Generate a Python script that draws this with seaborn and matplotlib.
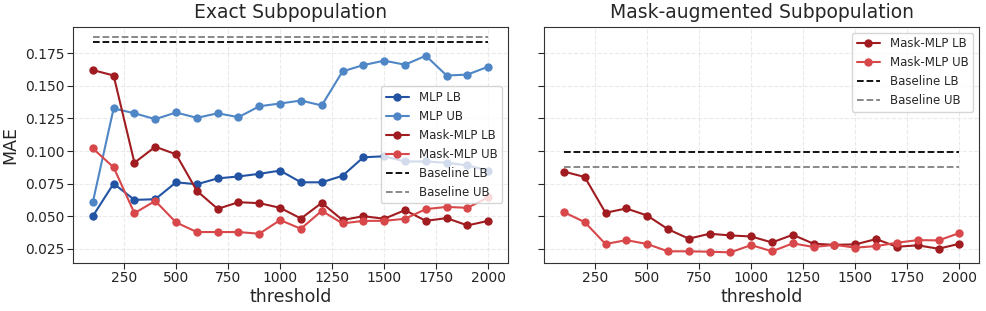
import numpy as np
import pandas as pd
import matplotlib
matplotlib.use("Agg")
import matplotlib.pyplot as plt
import seaborn as sns

thresholds = list(range(100, 2001, 100))

# Exact subpopulation
mlp_lb = [0.050, 0.075, 0.0625, 0.063, 0.076, 0.0745, 0.079, 0.0805, 0.0825, 0.085,
          0.076, 0.076, 0.081, 0.0952, 0.096, 0.092, 0.092, 0.091, 0.089, 0.085]
mlp_ub = [0.0607, 0.1327, 0.129, 0.1245, 0.1296, 0.1255, 0.129, 0.126, 0.1344, 0.1365,
          0.1388, 0.135, 0.1612, 0.166, 0.1694, 0.1663, 0.1732, 0.158, 0.1587, 0.1648]
mask_lb_exact = [0.1622, 0.158, 0.091, 0.1033, 0.0975, 0.0694, 0.0556, 0.0607, 0.060, 0.0564,
                 0.0482, 0.0602, 0.047, 0.050, 0.048, 0.0546, 0.0464, 0.0485, 0.0429, 0.0464]
mask_ub_exact = [0.102, 0.0875, 0.0523, 0.0617, 0.0452, 0.0378, 0.0378, 0.0378, 0.0365, 0.047,
                 0.0403, 0.0541, 0.0444, 0.0464, 0.0464, 0.048, 0.0554, 0.0571, 0.0564, 0.0645]
baseline_lb_exact = 0.1835
baseline_ub_exact = 0.1872

# Mask-augmented subpopulation
mask_lb_aug = [0.0842, 0.0801, 0.0526, 0.0559, 0.0505, 0.040, 0.0327, 0.0365, 0.0352, 0.0344,
               0.0298, 0.0357, 0.0288, 0.028, 0.0283, 0.0324, 0.0265, 0.0276, 0.025, 0.0288]
mask_ub_aug = [0.0531, 0.0454, 0.0286, 0.0316, 0.0286, 0.023, 0.023, 0.0227, 0.0222, 0.0278,
               0.023, 0.0291, 0.0263, 0.028, 0.0258, 0.027, 0.0296, 0.0316, 0.0314, 0.037]
baseline_lb_aug = 0.099
baseline_ub_aug = 0.0878

x_ticks = [250, 500, 750, 1000, 1250, 1500, 1750, 2000]
y_ticks = [0.025, 0.050, 0.075, 0.100, 0.125, 0.150, 0.175]

colors = {
    "MLP LB": "#2354a4",
    "MLP UB": "#4f86c6",
    "Mask-MLP LB": "#a01c20",
    "Mask-MLP UB": "#d8474a",
}

sns.set_style("ticks")
plt.rcParams["font.family"] = ["DejaVu Sans"]

fig, axes = plt.subplots(1, 2, figsize=(9.87, 3.11), dpi=100, sharey=True)
fig.subplots_adjust(left=0.074, right=0.992, top=0.914, bottom=0.154, wspace=0.083)


def draw(ax, series, base_lb, base_ub, title, loc):
    for name, vals in series:
        sns.lineplot(x=thresholds, y=vals, ax=ax, color=colors[name], marker="o",
                     markersize=6, markeredgewidth=0, linewidth=1.5, label=name)
    sns.lineplot(x=thresholds, y=[base_lb] * len(thresholds), ax=ax, color="black",
                 linestyle="--", linewidth=1.3, label="Baseline LB")
    sns.lineplot(x=thresholds, y=[base_ub] * len(thresholds), ax=ax, color="gray",
                 linestyle="--", linewidth=1.3, label="Baseline UB")
    ax.set_title(title, fontsize=13.5)
    ax.set_xlabel("threshold", fontsize=12.5, labelpad=2)
    ax.set_ylabel("MAE", fontsize=12.5, labelpad=4)
    ax.set_xticks(x_ticks)
    ax.set_yticks(y_ticks)
    ax.tick_params(labelsize=10, length=4, pad=2)
    ax.grid(True, linestyle="--", alpha=0.4)
    for s in ax.spines.values():
        s.set_color("#333333")
    ax.legend(loc=loc, fontsize=8.5, framealpha=0.8)


draw(axes[0],
     [("MLP LB", mlp_lb), ("MLP UB", mlp_ub),
      ("Mask-MLP LB", mask_lb_exact), ("Mask-MLP UB", mask_ub_exact)],
     baseline_lb_exact, baseline_ub_exact, "Exact Subpopulation", "center right")
draw(axes[1],
     [("Mask-MLP LB", mask_lb_aug), ("Mask-MLP UB", mask_ub_aug)],
     baseline_lb_aug, baseline_ub_aug, "Mask-augmented Subpopulation", "upper right")
axes[0].yaxis.set_major_formatter(matplotlib.ticker.FormatStrFormatter("%.3f"))

fig.savefig("out.png", dpi=100)
